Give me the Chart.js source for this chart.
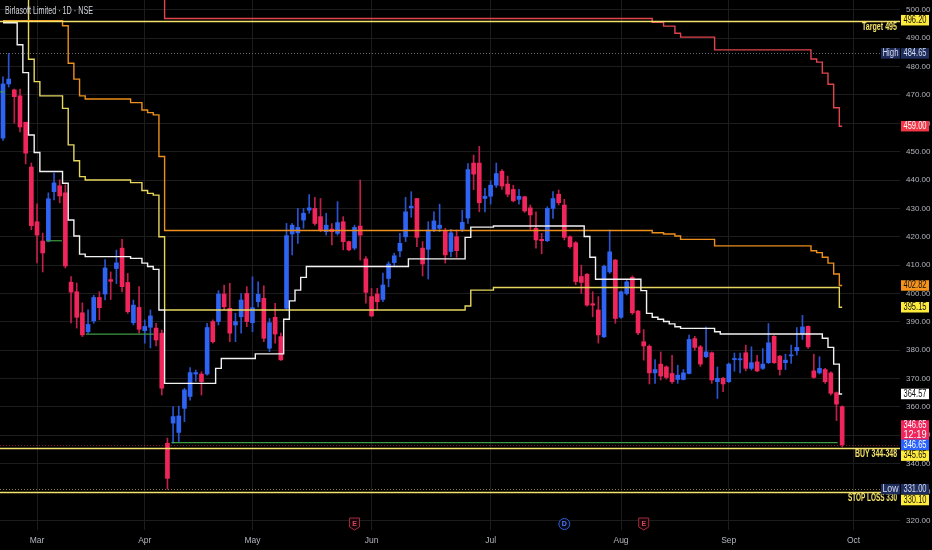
<!DOCTYPE html>
<html><head><meta charset="utf-8">
<script src="https://cdn.jsdelivr.net/npm/chart.js@4.4.1/dist/chart.umd.min.js"></script>
<style>html,body{margin:0;padding:0;background:#000;overflow:hidden}</style>
</head><body>
<canvas id="c" width="932" height="550"></canvas>
<script>
// ---- calendar ----
const START_DATE = '2025-02-20';
const HOLIDAYS = ['2025-02-26','2025-03-14','2025-03-31','2025-04-10','2025-04-14','2025-04-18','2025-05-01','2025-08-15','2025-08-27','2025-10-02'];
const MONTHS = ['Jan','Feb','Mar','Apr','May','Jun','Jul','Aug','Sep','Oct','Nov','Dec'];

// ---- OHLC (Birlasoft Limited, 1D, NSE) ----
const opens = [454.8,473.9,471.8,469.7,460.4,444.6,425.3,418.5,418.5,435.9,438.0,435.5,404.0,400.6,393.2,386.5,390.3,398.6,399.8,404.9,
408.8,416.0,403.9,389.7,395.1,386.9,388.1,387.8,386.0,347.2,354.3,351.0,359.5,363.7,371.6,371.6,371.6,390.1,390.1,399.8,
394.8,388.9,391.8,400.0,389.7,397.1,398.3,380.7,391.6,384.8,394.8,421.0,421.4,425.9,429.4,430.0,427.1,421.8,422.7,421.2,
425.3,418.3,416.0,423.8,412.2,398.9,399.8,397.9,405.3,410.9,415.0,420.0,430.2,433.5,416.0,415.6,422.6,423.0,422.1,414.8,
420.0,422.6,426.6,446.0,446.0,433.5,434.3,438.2,443.1,438.6,436.7,433.2,434.1,430.2,423.0,419.1,418.6,430.0,435.0,431.2,
420.0,417.9,406.0,406.8,396.4,394.2,384.7,407.6,411.8,391.6,400.0,405.7,393.8,383.0,381.4,372.0,375.1,374.1,371.8,369.7,
369.7,371.8,384.1,381.2,377.7,379.1,368.9,370.1,368.9,376.7,376.6,379.1,373.6,375.9,373.6,375.6,384.9,377.9,375.6,378.0,
379.8,385.9,388.4,372.7,372.0,373.2,372.0,365.0,360.1];
const highs = [476.4,484.65,472.1,472.1,460.4,446.0,431.6,421.3,435.5,442.5,440.1,438.3,406.0,403.7,396.7,394.2,399.4,400.6,412.0,407.6,
415.3,419.1,407.1,397.7,402.4,390.7,394.2,389.5,387.1,349.0,360.1,360.3,366.6,373.9,373.0,372.4,389.5,390.7,401.0,403.0,
403.6,393.0,400.0,402.4,405.9,404.1,402.7,391.2,396.5,386.0,424.7,424.7,430.0,430.0,434.9,433.9,433.5,428.3,424.7,432.4,
427.1,418.5,424.1,440.0,413.0,401.8,401.8,407.2,411.2,414.2,421.2,433.9,435.9,433.5,418.3,425.3,428.8,431.5,423.0,422.6,
422.4,429.4,445.8,448.8,451.9,437.1,439.7,446.0,443.7,441.4,438.2,436.7,434.3,431.2,428.8,421.2,430.6,435.9,436.5,433.2,
420.3,418.3,410.0,407.0,400.6,398.9,410.0,422.4,412.0,400.9,404.6,406.2,394.1,387.3,381.9,376.7,379.4,374.5,378.2,374.7,
373.2,385.3,384.9,381.7,388.2,379.4,374.1,370.4,375.5,379.0,379.0,381.8,381.2,378.2,380.6,389.4,385.2,378.2,378.6,381.8,
388.0,392.3,388.6,378.6,377.7,373.6,372.4,365.3,360.4];
const lows = [454.0,472.8,460.1,457.0,445.7,422.5,410.8,407.6,418.2,433.0,432.0,409.0,389.6,387.8,384.8,386.0,389.5,390.7,397.7,397.9,
403.5,400.6,393.0,388.9,386.0,382.5,380.8,381.5,364.2,331.0,347.2,347.8,354.8,362.4,369.0,364.2,371.2,382.5,388.9,394.2,
383.0,383.0,386.0,388.3,386.5,395.3,383.0,379.5,382.5,376.4,394.2,413.6,417.7,423.0,428.3,424.1,421.8,420.6,417.1,420.6,
415.4,415.0,415.4,411.8,396.6,391.8,394.2,397.1,402.4,409.5,413.0,418.3,426.9,416.5,406.2,405.1,421.8,421.8,410.7,413.0,
412.8,421.8,424.7,436.6,428.8,428.8,431.5,437.4,436.7,434.1,432.3,431.5,428.6,422.6,416.0,414.0,418.3,426.5,431.2,418.9,
416.0,403.1,400.0,395.5,391.8,382.5,384.5,407.1,389.5,391.2,399.5,392.6,385.5,376.5,368.1,368.3,369.5,369.8,368.3,368.3,
369.5,371.6,380.0,374.3,377.4,368.3,363.0,365.4,368.6,372.6,372.0,372.7,373.0,372.4,373.2,375.3,375.3,371.2,373.2,375.3,
378.3,383.8,380.6,370.1,371.6,368.3,364.2,355.2,345.9];
const closes = [473.9,475.6,469.4,458.7,449.5,423.9,420.6,414.3,433.4,439.0,434.4,409.7,400.5,391.6,385.4,389.1,398.6,395.0,409.0,404.3,
410.8,402.4,393.6,395.9,387.4,388.4,392.1,383.6,366.6,334.8,356.6,356.8,366.0,372.1,372.1,368.9,388.0,383.0,399.8,395.3,
386.0,390.1,397.7,390.1,395.0,399.7,384.2,389.7,385.7,376.6,420.4,424.1,423.3,428.3,430.2,424.7,422.4,424.1,421.8,425.0,
418.3,415.4,423.3,420.6,400.4,392.1,397.1,403.0,410.4,413.3,417.7,428.8,430.8,419.8,410.4,422.4,425.6,424.1,413.6,421.4,
415.1,425.1,443.7,442.1,432.0,434.3,438.2,442.3,437.9,435.0,432.7,434.3,429.1,427.7,418.9,418.6,430.0,433.5,432.0,419.8,
416.5,404.2,403.9,395.9,395.9,385.4,409.6,414.7,391.2,400.6,404.1,393.2,386.1,381.5,372.0,373.2,370.9,370.4,368.9,371.2,
372.0,383.8,381.0,375.1,379.4,369.5,370.1,368.1,375.1,377.1,377.0,373.6,375.6,372.7,375.1,382.6,375.6,373.2,376.5,378.3,
381.0,388.2,381.2,370.4,373.6,368.9,364.8,361.0,346.65];

// ---- step-line indicators (one value per bar; 520 = above the visible range) ----
const whiteLine = [495.5,495.5,495.5,487.7,477.9,455.9,449.7,443.0,443.0,443.0,443.0,438.9,425.9,420.3,413.9,413.0,413.0,413.0,413.0,413.0,
413.0,413.0,413.0,412.4,412.4,410.7,409.5,408.5,394.2,368.3,368.3,368.3,368.3,368.3,368.3,368.3,368.3,368.3,373.6,377.1,
377.1,377.1,377.1,377.1,377.1,378.7,378.7,378.7,378.7,378.7,390.9,397.4,401.2,405.7,409.5,409.5,409.5,409.5,409.5,409.5,
409.5,409.5,409.5,409.5,409.5,409.5,409.5,409.5,409.5,409.5,409.5,409.5,412.2,412.2,412.2,412.2,412.2,412.2,412.2,412.2,
412.2,412.2,419.8,423.4,423.4,423.4,423.4,423.8,423.8,423.8,423.8,423.8,423.8,423.8,423.8,423.8,423.8,423.8,423.8,423.8,
423.8,423.8,423.8,420.1,412.8,405.0,405.0,405.0,405.0,405.0,405.0,405.0,405.0,401.0,393.0,391.6,390.9,390.1,389.3,388.3,
387.7,387.7,387.7,387.7,387.7,387.7,386.5,385.7,385.7,385.7,385.7,385.7,385.7,385.7,385.7,385.7,385.7,385.7,385.7,385.7,
385.7,385.7,385.7,385.7,385.7,384.2,381.0,375.1,364.57];
const yellowLine = [520,520,520,520,520,482.6,474.7,469.7,469.7,469.7,469.7,465.3,452.4,446.8,441.2,440.0,440.0,440.0,440.0,440.0,
440.0,440.0,440.0,439.1,439.1,436.3,435.3,434.7,420.0,394.2,394.2,394.2,394.2,394.2,394.2,394.2,394.2,394.2,394.2,394.2,
394.2,394.2,394.2,394.2,394.2,394.2,394.2,394.2,394.2,394.2,394.2,394.2,394.2,394.2,394.2,394.2,394.2,394.2,394.2,394.2,
394.2,394.2,394.2,394.2,394.2,394.2,394.2,394.2,394.2,394.2,394.2,394.2,394.2,394.2,394.2,394.2,394.2,394.2,394.2,394.2,
394.2,394.2,395.6,401.2,401.2,401.2,401.2,402.1,402.1,402.1,402.1,402.1,402.1,402.1,402.1,402.1,402.1,402.1,402.1,402.1,
402.1,402.1,402.1,402.1,402.1,402.1,402.1,402.1,402.1,402.1,402.1,402.1,402.1,402.1,402.1,402.1,402.1,402.1,402.1,402.1,
402.1,402.1,402.1,402.1,402.1,402.1,402.1,402.1,402.1,402.1,402.1,402.1,402.1,402.1,402.1,402.1,402.1,402.1,402.1,402.1,
402.1,402.1,402.1,402.1,402.1,402.1,402.1,402.1,395.15];
const orangeLine = [496.2,496.2,496.2,496.2,496.2,496.2,496.2,496.2,496.2,496.2,496.2,494.4,481.2,475.6,469.7,468.6,468.6,468.6,468.6,468.6,
468.6,468.6,468.6,467.3,467.3,464.7,463.8,463.0,448.3,422.2,422.2,422.2,422.2,422.2,422.2,422.2,422.2,422.2,422.2,422.2,
422.2,422.2,422.2,422.2,422.2,422.2,422.2,422.2,422.2,422.2,422.2,422.2,422.2,422.2,422.2,422.2,422.2,422.2,422.2,422.2,
422.2,422.2,422.2,422.2,422.2,422.2,422.2,422.2,422.2,422.2,422.2,422.2,422.2,422.2,422.2,422.2,422.2,422.2,422.2,422.2,
422.2,422.2,422.2,422.2,422.2,422.2,422.2,422.2,422.2,422.2,422.2,422.2,422.2,422.2,422.2,422.2,422.2,422.2,422.2,422.2,
422.2,422.2,422.2,422.2,422.2,422.2,422.2,422.2,422.2,422.2,422.2,422.2,422.2,422.2,422.2,421.4,421.4,421.0,421.0,420.3,
419.1,419.1,419.1,419.1,419.1,419.1,416.8,416.8,416.8,416.8,416.8,416.8,416.8,416.8,416.8,416.8,416.8,416.8,416.8,416.8,
416.8,416.8,416.8,415.1,414.4,412.8,410.7,406.9,402.82];
const redLine = [520,520,520,520,520,520,520,520,520,520,520,520,520,520,520,520,520,520,520,520,
520,520,520,520,520,520,520,520,520,497.0,497.0,497.0,497.0,497.0,497.0,497.0,497.0,497.0,497.0,497.0,
497.0,497.0,497.0,497.0,497.0,497.0,497.0,497.0,497.0,497.0,497.0,497.0,497.0,497.0,497.0,497.0,497.0,497.0,497.0,497.0,
497.0,497.0,497.0,497.0,497.0,497.0,497.0,497.0,497.0,497.0,497.0,497.0,497.0,497.0,497.0,497.0,497.0,497.0,497.0,497.0,
497.0,497.0,497.0,497.0,497.0,497.0,497.0,497.0,497.0,497.0,497.0,497.0,497.0,497.0,497.0,497.0,497.0,497.0,497.0,497.0,
497.0,497.0,497.0,497.0,497.0,497.0,497.0,497.0,497.0,497.0,497.0,497.0,497.0,497.0,497.0,495.6,495.6,494.3,494.3,491.8,
490.4,490.4,490.4,490.4,490.4,490.4,485.9,485.9,485.9,485.9,485.9,485.9,485.9,485.9,485.9,485.9,485.9,485.9,485.9,485.9,
485.9,485.9,485.9,482.7,481.6,477.7,473.8,465.5,459.0];

// ---- pivot-low support segments: [fromBar, toBar, price] ----
const supportSegments = [[-0.5,0.3,471.1],[7.7,10.4,418.6],[14.6,26.6,385.7],[29.7,147.2,347.4]];

// ---- drawn levels ----
const TARGET = 496.2, BUY = 345.65, STOP_LOSS = 330.1, HIGH = 484.65, LOW = 331.0, LAST = 346.65;
const events = [{bar:62,type:'E'},{bar:99,type:'D'},{bar:113,type:'E'}];

// ---- derived ----
const SLOTS = 159;
function tradingDays(start, n){
  const out=[]; const d=new Date(start+'T00:00:00Z');
  while(out.length<n){const wd=d.getUTCDay(); const iso=d.toISOString().slice(0,10);
    if(wd!==0&&wd!==6&&!HOLIDAYS.includes(iso)) out.push(iso); d.setUTCDate(d.getUTCDate()+1);}
  return out;
}
const dates = tradingDays(START_DATE, SLOTS);
const monthStarts = [];
for(let i=1;i<dates.length;i++){ if(dates[i].slice(5,7)!==dates[i-1].slice(5,7)) monthStarts.push(i); }

const UP='#2f63f2', DOWN='#f0255b', UPW='#2a54cf', DOWNW='#c01f4c';
const FONT="'Liberation Sans',Arial,sans-serif";
const X_MIN=-0.53, X_MAX=158.2, Y_MIN=316.6, Y_MAX=503.5;

const bodyData = opens.map((o,i)=>({x:i,y:[o,closes[i]]}));
const wickData = lows.map((l,i)=>({x:i,y:[l,highs[i]]}));
const bodyColors = opens.map((o,i)=> closes[i]>=o?UP:DOWN);
const wickColors = opens.map((o,i)=> closes[i]>=o?UPW:DOWNW);

function stepDS(vals,color,order){return {type:'line',data:vals.map((v,i)=>({x:i,y:v})),borderColor:color,borderWidth:1.4,pointRadius:0,stepped:'middle',fill:false,order};}
const greenDS = supportSegments.map(s=>({type:'line',data:[{x:s[0],y:s[2]},{x:s[1],y:s[2]}],borderColor:'#3f9a44',borderWidth:1.2,pointRadius:0,fill:false,order:6}));

const overlay = {
  id:'overlay',
  afterDatasetsDraw(chart){
    const {ctx, chartArea:a, scales:{y}} = chart;
    const hline=(v,color,w,dash)=>{const py=Math.round(y.getPixelForValue(v))+0.5;ctx.save();ctx.beginPath();ctx.rect(a.left,a.top,a.width,a.height);ctx.clip();
      ctx.strokeStyle=color;ctx.lineWidth=w;ctx.setLineDash(dash||[]);ctx.beginPath();ctx.moveTo(a.left,py);ctx.lineTo(a.right,py);ctx.stroke();ctx.restore();};
    hline(HIGH,'#6a6d78',1,[1,2]);
    hline(LOW,'#8a7f4a',1,[1,2]);
    hline(LAST,'rgba(240,37,91,0.55)',1,[1,2]);
    hline(TARGET,'#f2e16a',1.6);
    hline(BUY,'#f2e16a',1.6);
    hline(STOP_LOSS,'#f2e16a',1.6);
    ctx.save();
    ctx.font="bold 10px "+FONT; ctx.fillStyle='#f2e16a'; ctx.textAlign='right'; ctx.textBaseline='middle';
    ctx.fillText('Target 495', a.right-3, y.getPixelForValue(TARGET)+6.5, 35);
    ctx.fillText('BUY 344-348', a.right-3, y.getPixelForValue(BUY)+6.5, 42);
    ctx.fillText('STOP LOSS 330', a.right-3, y.getPixelForValue(STOP_LOSS)+6.5, 49);
    ctx.restore();
  },
  afterDraw(chart){
    const {ctx, chartArea:a, scales:{x,y}} = chart;
    ctx.save();
    ctx.font="10.5px "+FONT; ctx.fillStyle='#d1d4dc'; ctx.textAlign='left'; ctx.textBaseline='middle';
    ctx.fillText('Birlasoft Limited · 1D · NSE', 5, 11, 88);
    const boxes=[
      {v:TARGET,t:['496.20'],bg:'#ffeb3b',fg:'#111',dy:-0.5},
      {v:HIGH,t:['484.65'],bg:'#1e2d5c',fg:'#d6dcf2',tag:'High'},
      {v:459.0,t:['459.00'],bg:'#f23645',fg:'#fff'},
      {v:402.82,t:['402.82'],bg:'#f7931a',fg:'#111'},
      {v:395.15,t:['395.15'],bg:'#ffeb3b',fg:'#111'},
      {v:364.57,t:['364.57'],bg:'#ffffff',fg:'#111'},
      {v:LAST,t:['346.65','12:19'],bg:'#f0255b',fg:'#fff',dy:-14.5},
      {v:LAST,t:['346.65'],bg:'#2962ff',fg:'#fff'},
      {v:BUY,t:['345.65'],bg:'#ffeb3b',fg:'#111',dy:8},
      {v:LOW,t:['331.00'],bg:'#1e2d5c',fg:'#d6dcf2',tag:'Low'},
      {v:STOP_LOSS,t:['330.10'],bg:'#ffeb3b',fg:'#111',dy:8.3}
    ];
    ctx.font="10px "+FONT; ctx.textBaseline='middle';
    boxes.forEach(b=>{
      const cy=y.getPixelForValue(b.v)+(b.dy||0); const h=b.t.length*9.5+1; const top=cy-h/2;
      ctx.fillStyle=b.bg; ctx.fillRect(a.right+1, top, 28, h);
      ctx.fillStyle=b.fg; ctx.textAlign='center';
      b.t.forEach((s,k)=>ctx.fillText(s, a.right+15, top+5.3+k*9.5, 23));
      if(b.tag){ ctx.fillStyle=b.bg; ctx.fillRect(a.right-19, top, 19, h); ctx.fillStyle=b.fg; ctx.textAlign='center'; ctx.fillText(b.tag, a.right-9.5, cy, 16); }
    });
    events.forEach(e=>{
      const cx=x.getPixelForValue(e.bar), cy=a.bottom-6;
      ctx.lineWidth=1;
      if(e.type==='E'){
        ctx.strokeStyle='#a52a3c'; ctx.fillStyle='#12060a';
        ctx.beginPath(); ctx.moveTo(cx-5,cy-6); ctx.lineTo(cx+5,cy-6); ctx.lineTo(cx+5,cy+3); ctx.lineTo(cx,cy+6); ctx.lineTo(cx-5,cy+3); ctx.closePath(); ctx.fill(); ctx.stroke();
        ctx.fillStyle='#d8465a';
      } else {
        ctx.strokeStyle='#2f5bd8'; ctx.fillStyle='#060a18';
        ctx.beginPath(); ctx.arc(cx,cy,5.5,0,Math.PI*2); ctx.fill(); ctx.stroke();
        ctx.fillStyle='#4f7df0';
      }
      ctx.font="bold 7px "+FONT; ctx.textAlign='center'; ctx.fillText(e.type, cx, cy);
    });
    ctx.restore();
  }
};

new Chart(document.getElementById('c'), {
  type:'bar',
  data:{datasets:[
    stepDS(redLine,'#e0454e',2),
    stepDS(orangeLine,'#ec8f1c',3),
    stepDS(yellowLine,'#e6d65e',4),
    stepDS(whiteLine,'#f2f2f2',1),
    ...greenDS,
    {type:'bar',data:bodyData,backgroundColor:bodyColors,barThickness:4,grouped:false,minBarLength:1,borderWidth:0,order:10},
    {type:'bar',data:wickData,backgroundColor:wickColors,barThickness:1,grouped:false,borderWidth:0,order:11}
  ]},
  options:{
    responsive:false, animation:false, events:[], layout:{padding:0},
    plugins:{legend:{display:false},tooltip:{enabled:false}},
    scales:{
      x:{type:'linear',min:X_MIN,max:X_MAX,offset:false,
        afterFit(s){s.height=20;s.paddingLeft=0;s.paddingRight=0;},
        afterBuildTicks(s){s.ticks=monthStarts.map(i=>({value:i}));},
        ticks:{autoSkip:false,maxRotation:0,color:'#b2b5be',font:{size:8.5,family:FONT},padding:6,
          callback:(v)=>{const d=dates[Math.round(v)]; return d?MONTHS[+d.slice(5,7)-1]:'';}},
        grid:{color:'#1c1c1c',drawTicks:false,offset:false},border:{display:false}},
      y:{type:'linear',position:'right',min:Y_MIN,max:Y_MAX,
        afterFit(s){s.width=32;s.paddingTop=0;s.paddingBottom=0;},
        ticks:{stepSize:10,includeBounds:false,color:'#b2b5be',font:{size:8,family:FONT},padding:6,callback:v=>v.toFixed(2)},
        grid:{color:'#1c1c1c',drawTicks:false},border:{display:false}}
    }
  },
  plugins:[overlay]
});
</script>
</body></html>
